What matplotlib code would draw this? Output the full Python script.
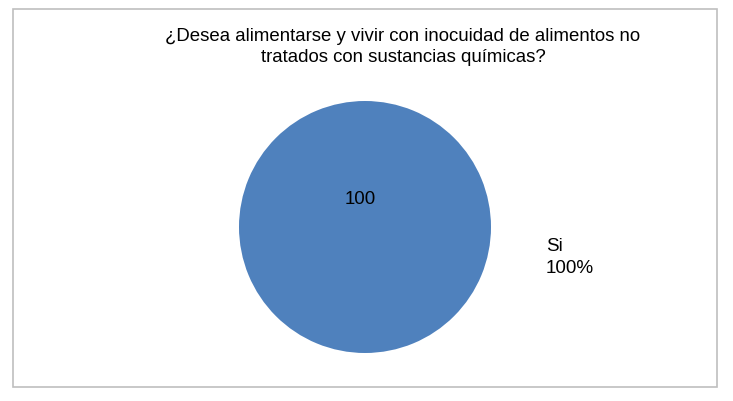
import matplotlib
matplotlib.use("Agg")
import matplotlib.pyplot as plt
from matplotlib.patches import Rectangle

plt.rcParams["font.family"] = ["Liberation Sans", "DejaVu Sans"]

title = "¿Desea alimentarse y vivir con inocuidad de alimentos no\ntratados con sustancias químicas?"
categories = ["Si"]
values = [100]
colors = ["#4F81BD"]

W, H = 733, 401
fig = plt.figure(figsize=(W / 100, H / 100), dpi=100)

# chart-area border
fig.patches.append(Rectangle((13 / W, (H - 387) / H), (717 - 13) / W, (387 - 9) / H,
                             transform=fig.transFigure, fill=False,
                             edgecolor="#BFBFBF", linewidth=1.2))

fig.text(403 / W, 1 - 47 / H, title, ha="center", va="center",
         fontsize=13.4, linespacing=1.35)

# pie axes placed in pixel coordinates
cx, cy, r = 365, 227, 126
ax = fig.add_axes([(cx - r) / W, (H - cy - r) / H, 2 * r / W, 2 * r / H])
total = sum(values)
wedges, _, autotexts = ax.pie(values, colors=colors, startangle=-80, radius=1,
                              autopct=lambda p: f"{p * total / 100:.0f}",
                              pctdistance=0.22,
                              wedgeprops=dict(linewidth=0),
                              textprops=dict(fontsize=13.4, color="black"))
ax.set_xlim(-1, 1)
ax.set_ylim(-1, 1)
ax.set_aspect("equal")

for cat, v in zip(categories, values):
    ax.text(1.435, -0.245, f"{cat}\n{v / total:.0%}", ha="left", va="center",
            fontsize=13.6, linespacing=1.4, clip_on=False)

fig.savefig("out.png", dpi=100)
